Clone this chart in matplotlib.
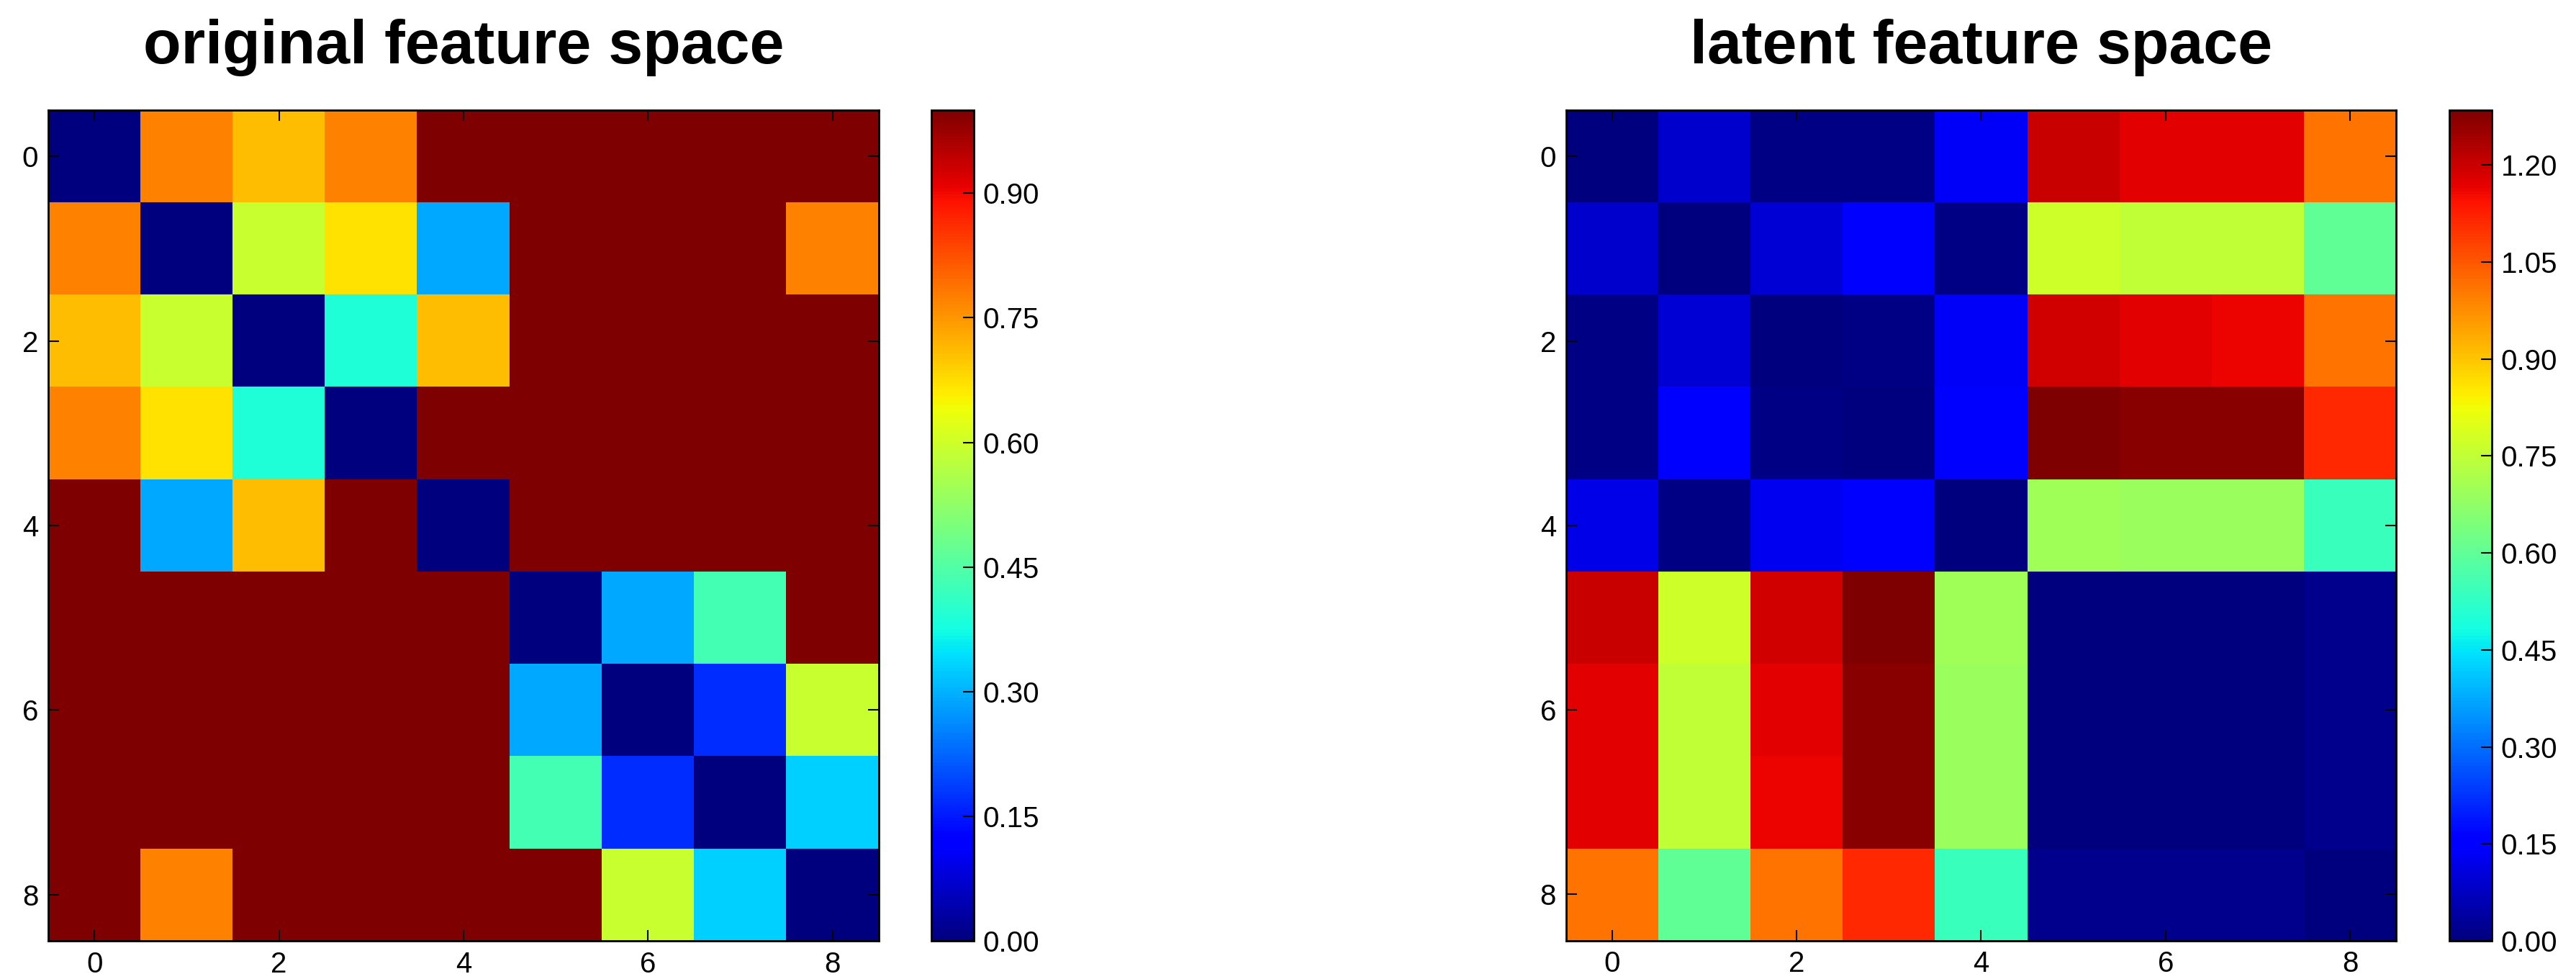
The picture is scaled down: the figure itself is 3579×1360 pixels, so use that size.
import matplotlib
matplotlib.use("Agg")
import matplotlib.pyplot as plt
from matplotlib.ticker import MultipleLocator, FormatStrFormatter
import numpy as np

plt.rcParams.update({
    "font.family": "Liberation Sans",
    "axes.linewidth": 2.0,
    "figure.facecolor": "white",
})

TITLES = ["original feature space", "latent feature space"]

original = [
    [0.00, 0.77, 0.71, 0.77, 1.00, 1.00, 1.00, 1.00, 1.00],
    [0.77, 0.00, 0.59, 0.67, 0.29, 1.00, 1.00, 1.00, 0.77],
    [0.71, 0.59, 0.00, 0.39, 0.71, 1.00, 1.00, 1.00, 1.00],
    [0.77, 0.67, 0.39, 0.00, 1.00, 1.00, 1.00, 1.00, 1.00],
    [1.00, 0.29, 0.71, 1.00, 0.00, 1.00, 1.00, 1.00, 1.00],
    [1.00, 1.00, 1.00, 1.00, 1.00, 0.00, 0.29, 0.43, 1.00],
    [1.00, 1.00, 1.00, 1.00, 1.00, 0.29, 0.00, 0.17, 0.59],
    [1.00, 1.00, 1.00, 1.00, 1.00, 0.43, 0.17, 0.00, 0.33],
    [1.00, 0.77, 1.00, 1.00, 1.00, 1.00, 0.59, 0.33, 0.00],
]

# pairwise distances, latent feature space
latent = [
    [0.00, 0.09, 0.01, 0.01, 0.14, 1.20, 1.17, 1.17, 1.01],
    [0.09, 0.00, 0.10, 0.15, 0.01, 0.77, 0.75, 0.75, 0.60],
    [0.01, 0.10, 0.00, 0.01, 0.14, 1.19, 1.17, 1.16, 1.01],
    [0.01, 0.15, 0.01, 0.00, 0.15, 1.285, 1.27, 1.27, 1.11],
    [0.12, 0.01, 0.13, 0.15, 0.00, 0.70, 0.69, 0.69, 0.54],
    [1.20, 0.77, 1.19, 1.285, 0.70, 0.00, 0.00, 0.00, 0.02],
    [1.17, 0.75, 1.17, 1.27, 0.69, 0.00, 0.00, 0.00, 0.02],
    [1.17, 0.75, 1.16, 1.27, 0.69, 0.00, 0.00, 0.00, 0.02],
    [1.01, 0.60, 1.01, 1.11, 0.54, 0.02, 0.02, 0.02, 0.00],
]

fig = plt.figure(figsize=(35.8, 13.6), dpi=100)

# [left, bottom, width, height] for heatmap and colorbar
AX_POS = [[0.0187, 0.039, 0.3224, 0.8485], [0.6078, 0.039, 0.3221, 0.8485]]
CB_POS = [[0.3615, 0.039, 0.0165, 0.8485], [0.9506, 0.039, 0.0165, 0.8485]]

for data, title, apos, cpos in zip([original, latent], TITLES, AX_POS, CB_POS):
    ax = fig.add_axes(apos)
    im = ax.imshow(np.array(data), cmap="jet", interpolation="nearest")
    ax.set_xticks(range(0, 9, 2))
    ax.set_yticks(range(0, 9, 2))
    ax.tick_params(direction="in", top=True, right=True, length=11, width=1.5,
                   labelsize=29, pad=10)
    ax.set_title(title, fontsize=62, fontweight="bold", pad=47)

    cax = fig.add_axes(cpos)
    cb = fig.colorbar(im, cax=cax)
    cb.outline.set_linewidth(2.0)
    cb.locator = MultipleLocator(0.15)
    cb.formatter = FormatStrFormatter("%.2f")
    cb.update_ticks()
    cax.tick_params(direction="in", length=11, width=1.5, labelsize=29, pad=9)

fig.savefig("out.png", dpi=100, facecolor="white")
